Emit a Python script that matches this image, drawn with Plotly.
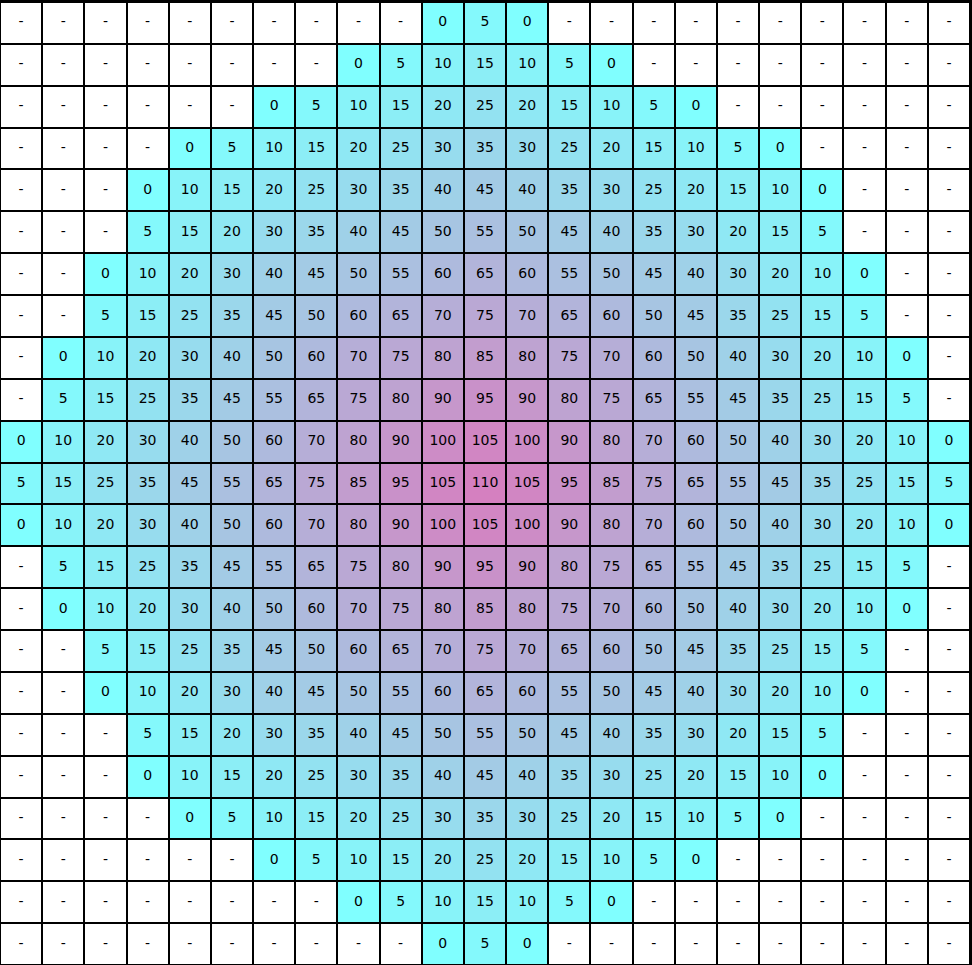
import plotly.graph_objects as go

N = None
rows = [
    [N,N,N,N,N,N,N,N,N,N,0,5,0,N,N,N,N,N,N,N,N,N,N],
    [N,N,N,N,N,N,N,N,0,5,10,15,10,5,0,N,N,N,N,N,N,N,N],
    [N,N,N,N,N,N,0,5,10,15,20,25,20,15,10,5,0,N,N,N,N,N,N],
    [N,N,N,N,0,5,10,15,20,25,30,35,30,25,20,15,10,5,0,N,N,N,N],
    [N,N,N,0,10,15,20,25,30,35,40,45,40,35,30,25,20,15,10,0,N,N,N],
    [N,N,N,5,15,20,30,35,40,45,50,55,50,45,40,35,30,20,15,5,N,N,N],
    [N,N,0,10,20,30,40,45,50,55,60,65,60,55,50,45,40,30,20,10,0,N,N],
    [N,N,5,15,25,35,45,50,60,65,70,75,70,65,60,50,45,35,25,15,5,N,N],
    [N,0,10,20,30,40,50,60,70,75,80,85,80,75,70,60,50,40,30,20,10,0,N],
    [N,5,15,25,35,45,55,65,75,80,90,95,90,80,75,65,55,45,35,25,15,5,N],
    [0,10,20,30,40,50,60,70,80,90,100,105,100,90,80,70,60,50,40,30,20,10,0],
    [5,15,25,35,45,55,65,75,85,95,105,110,105,95,85,75,65,55,45,35,25,15,5],
    [0,10,20,30,40,50,60,70,80,90,100,105,100,90,80,70,60,50,40,30,20,10,0],
    [N,5,15,25,35,45,55,65,75,80,90,95,90,80,75,65,55,45,35,25,15,5,N],
    [N,0,10,20,30,40,50,60,70,75,80,85,80,75,70,60,50,40,30,20,10,0,N],
    [N,N,5,15,25,35,45,50,60,65,70,75,70,65,60,50,45,35,25,15,5,N,N],
    [N,N,0,10,20,30,40,45,50,55,60,65,60,55,50,45,40,30,20,10,0,N,N],
    [N,N,N,5,15,20,30,35,40,45,50,55,50,45,40,35,30,20,15,5,N,N,N],
    [N,N,N,0,10,15,20,25,30,35,40,45,40,35,30,25,20,15,10,0,N,N,N],
    [N,N,N,N,0,5,10,15,20,25,30,35,30,25,20,15,10,5,0,N,N,N,N],
    [N,N,N,N,N,N,0,5,10,15,20,25,20,15,10,5,0,N,N,N,N,N,N],
    [N,N,N,N,N,N,N,N,0,5,10,15,10,5,0,N,N,N,N,N,N,N,N],
    [N,N,N,N,N,N,N,N,N,N,0,5,0,N,N,N,N,N,N,N,N,N,N],
]
n_rows = len(rows)
n_cols = len(rows[0])
cols = list(range(n_cols))
row_idx = list(range(n_rows))

# background white bricks
bg = go.Heatmap(
    z=[[0] * n_cols for _ in rows], x=cols, y=row_idx,
    colorscale=[[0, "white"], [1, "white"]], showscale=False,
    xgap=2, ygap=2, hoverinfo="skip",
)
hm = go.Heatmap(
    z=rows, x=cols, y=row_idx,
    colorscale=[[0, "#80ffff"], [1, "#d580c0"]], zmin=0, zmax=110,
    showscale=False, xgap=2, ygap=2,
)
tx, ty, tt = [], [], []
for r in row_idx:
    for c in cols:
        v = rows[r][c]
        tx.append(c)
        ty.append(r)
        tt.append("-" if v is None else str(v))
txt = go.Scatter(
    x=tx, y=ty, text=tt, mode="text",
    textfont=dict(family="DejaVu Sans", size=14, color="black"),
    hoverinfo="skip",
)

fig = go.Figure([bg, hm, txt])
fig.update_layout(
    width=972, height=965, margin=dict(l=0, r=0, t=0, b=0),
    paper_bgcolor="black", plot_bgcolor="black", showlegend=False,
)
fig.update_xaxes(range=[-0.5, n_cols - 0.5], visible=True, showgrid=False,
                 zeroline=False, showticklabels=False, ticks="",
                 showline=True, linecolor="black", linewidth=2, mirror=True)
fig.update_yaxes(range=[n_rows - 0.5, -0.5], showgrid=False, zeroline=False,
                 showticklabels=False, ticks="",
                 showline=True, linecolor="black", linewidth=2, mirror=True)
fig.write_html("out.html")
